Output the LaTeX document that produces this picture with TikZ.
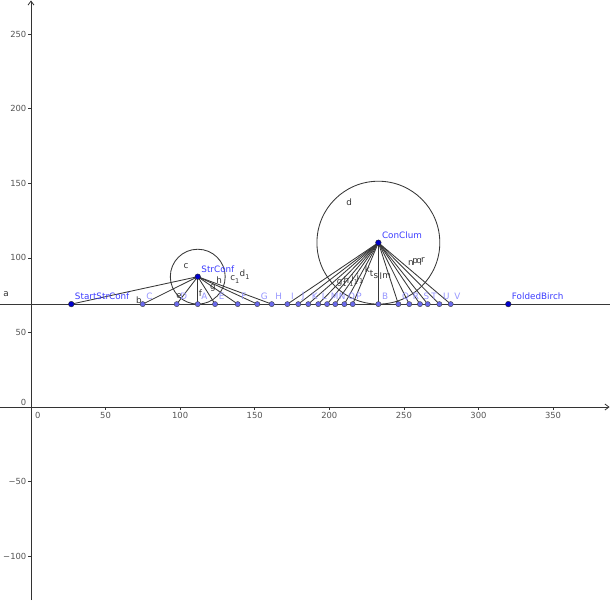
\documentclass[tikz,border=0pt]{standalone}
\usepackage{fontspec}
\setmainfont{DejaVu Sans}
\usetikzlibrary{arrows.meta}
\definecolor{segcol}{RGB}{55,55,55}
\definecolor{mainpt}{RGB}{0,0,205}
\definecolor{lightpt}{RGB}{105,105,235}
\definecolor{mainlbl}{RGB}{60,60,255}
\definecolor{lightlbl}{RGB}{150,150,255}
\definecolor{ticklbl}{RGB}{85,85,85}
\newcommand\lblsub[1]{\raisebox{-0.3em}{\fontsize{6.5}{7}\selectfont #1}}
\begin{document}
\begin{tikzpicture}[x=1.4914pt,y=1.4914pt,
  seg/.style={draw=segcol, line width=0.85pt},
  axisline/.style={draw=black!80, line width=0.8pt},
  tickmark/.style={draw=black!80, line width=0.6pt},
  mainpoint/.style={circle, fill=mainpt, draw=black!85, line width=0.4pt, minimum size=5.6pt, inner sep=0pt},
  lightpoint/.style={circle, fill=lightpt, draw=black!75, line width=0.4pt, minimum size=5.2pt, inner sep=0pt},
  mainlabel/.style={text=mainlbl, font=\fontsize{8.8}{10}\selectfont, inner sep=0pt, anchor=west},
  ptlabel/.style={text=lightlbl, font=\fontsize{8.8}{10}\selectfont, inner sep=0pt, anchor=west},
  seglabel/.style={text=black!80, font=\fontsize{8.8}{10}\selectfont, inner sep=0pt},
  ticklabel/.style={text=ticklbl, font=\fontsize{8.4}{10}\selectfont, inner sep=0pt}
]
\useasboundingbox (-20.79,-129.4) rectangle (388.2,272.9);

% axes
\coordinate (xl) at (-20.79,0);
\coordinate (xr) at (387.9,0);
\coordinate (yb) at (0,-129.4);
\coordinate (yt) at (0,272.6);
\draw[axisline,-{Straight Barb[length=4pt,width=6pt]}] (xl) -- (xr);
\draw[axisline,-{Straight Barb[length=4pt,width=6pt]}] (yb) -- (yt);
\foreach \t in {50,100,...,350}{
  \draw[tickmark] (\t,0) -- ++(0,-3pt);
  \node[ticklabel,anchor=north] at ([yshift=-5pt]\t,0) {\t};
}
\foreach \t in {50,100,...,250,-50,-100}{
  \draw[tickmark] (0,\t) -- ++(-3pt,0);
  \node[ticklabel,anchor=east] at ([xshift=-4.5pt]0,\t) {\ifnum\t<0 −\number-\t\else\t\fi};
}
\node[ticklabel,anchor=north west] at ([shift={(4pt,-5pt)}]0,0) {0};
\node[ticklabel,anchor=south east] at ([shift={(-4.5pt,1.5pt)}]0,0) {0};

% line a
\coordinate (al) at (-20.79,69);
\coordinate (ar) at (388.2,69);
\draw[seg] (al) -- (ar);
\node[seglabel] (la) at (-16.8,75.8) {a};

% points
\coordinate (StartStrConf) at (27,69);
\coordinate (StrConf) at (111.8,87.4);
\coordinate (ConClum) at (232.9,110.2);
\coordinate (FoldedBirch) at (320,69);
\coordinate (C) at (74.9,69);
\coordinate (D) at (97.7,69);
\coordinate (A) at (111.8,69);
\coordinate (E) at (123.4,69);
\coordinate (F) at (138.6,69);
\coordinate (G) at (151.7,69);
\coordinate (H) at (161.4,69);
\coordinate (I) at (171.9,69);
\coordinate (J) at (179.2,69);
\coordinate (K) at (185.9,69);
\coordinate (L) at (192.6,69);
\coordinate (M) at (198.5,69);
\coordinate (N) at (204.0,69);
\coordinate (O) at (210.1,69);
\coordinate (P) at (215.7,69);
\coordinate (B) at (232.9,69);
\coordinate (Q) at (246.3,69);
\coordinate (R) at (253.6,69);
\coordinate (S) at (260.8,69);
\coordinate (T) at (266.0,69);
\coordinate (U) at (273.8,69);
\coordinate (V) at (281.4,69);

% circles
\draw[seg] (StrConf) circle[radius=18.4];
\draw[seg] (ConClum) circle[radius=41.2];

% segments
\foreach \p in {StartStrConf,C,D,A,E,F,G,H}{
  \draw[seg] (StrConf) -- (\p);
}
\foreach \p in {I,J,K,L,M,N,O,P,B,Q,R,S,T,U,V}{
  \draw[seg] (ConClum) -- (\p);
}

% segment and circle labels
\node[seglabel] (lb) at (72.4,71.7) {b};
\node[seglabel] (lc) at (103.9,94.5) {c};
\node[seglabel] (le) at (99.2,74.4) {e};
\node[seglabel] (lf) at (113.6,76.4) {f};
\node[seglabel] (lg) at (122.0,79.8) {g};
\node[seglabel] (lh) at (126.1,85.2) {h};
\node[seglabel] (lc1) at (136.6,85.6) {c\lblsub{1}};
\node[seglabel] (ld1) at (143.2,88.6) {d\lblsub{1}};
\node[seglabel] (ld) at (213.4,137.0) {d};
\node[seglabel] (lg1) at (208.4,83.2) {g\lblsub{1}};
\node[seglabel] (lh1) at (212.9,84.2) {h\lblsub{1}};
\node[seglabel] (li1) at (217.0,85.2) {i\lblsub{1}};
\node[seglabel] (lj1) at (220.6,86.2) {j\lblsub{1}};
\node[seglabel] (lk) at (225.5,92.2) {k};
\node[seglabel] (lt) at (228.4,89.6) {t};
\node[seglabel] (ls) at (231.3,88.0) {s};
\node[seglabel] (ll) at (234.6,88.0) {l};
\node[seglabel] (lm) at (238.5,88.0) {m};
\node[seglabel] (ln) at (254.8,96.6) {n};
\node[seglabel] (lp) at (257.6,97.0) {p};
\node[seglabel] (lq) at (260.3,97.6) {q};
\node[seglabel] (lr) at (262.8,98.4) {r};

% point markers
\foreach \p in {C,D,A,E,F,G,H,I,J,K,L,M,N,O,P,B,Q,R,S,T,U,V}{
  \node[lightpoint] (pt\p) at (\p) {};
  \node[ptlabel] (lbl\p) at ([shift={(3.5pt,7.5pt)}]\p) {\p};
}
\foreach \p in {StartStrConf,StrConf,ConClum,FoldedBirch}{
  \node[mainpoint] (pt\p) at (\p) {};
  \node[mainlabel] (lbl\p) at ([shift={(3.5pt,7.8pt)}]\p) {\p};
}
\end{tikzpicture}
\end{document}
